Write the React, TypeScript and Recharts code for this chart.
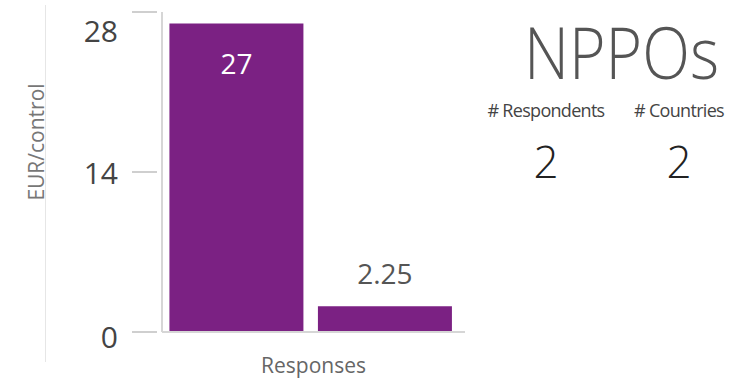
import { BarChart, Bar, XAxis, YAxis, LabelList } from "recharts";

// chart data
const categories = ["Response A", "Response B"];
const values = [27, 2.25];
const yTicks = [0, 14, 28];

// side panel figures
const panelTitle = "NPPOs";
const statLabels = ["# Respondents", "# Countries"];
const statValues = [2, 2];

const data = categories.map((c, i) => ({ category: c, value: values[i] }));

const FONT = "'Open Sans', 'Noto Sans', sans-serif";
const PURPLE = "#7b2183";

const YTick = (props: any) => {
    const { x, y, payload, index } = props;
    // top label sits lower, bottom one a touch lower too
    const shift = index === yTicks.length - 1 ? 18 : index === 0 ? 4 : 0;
    return (
        <g>
            <line x1={x - 30} x2={x - 5} y1={y} y2={y} stroke="#cfcfcf" strokeWidth={2} />
            <text
                x={x - 44}
                y={y + shift}
                textAnchor="end"
                dominantBaseline="central"
                fill="#444"
                fontSize={30}
                fontFamily={FONT}
            >
                {payload.value}
            </text>
        </g>
    );
};

const BarValue = (props: any) => {
    const { x, y, width, value } = props;
    const inside = value > 5;
    return (
        <text
            x={x + width / 2}
            y={inside ? y + 40 : y - 33}
            textAnchor="middle"
            dominantBaseline="central"
            fill={inside ? "#fff" : "#555"}
            fontSize={28}
            fontFamily={FONT}
        >
            {value}
        </text>
    );
};

export default function App() {
    return (
        <div style={{ position: "absolute", left: 0, top: 0, width: 731, height: 385, background: "#fff", fontFamily: FONT, overflow: "hidden" }}>
            <div style={{ position: "absolute", left: 45, top: 5, width: 1, height: 357, background: "#e6e6e6" }} />
            <BarChart
                width={480}
                height={385}
                data={data}
                margin={{ top: 12, right: 15, bottom: 0, left: 20 }}
                barCategoryGap="5%"
                barGap={0}
            >
                <XAxis
                    dataKey="category"
                    tick={false}
                    tickLine={false}
                    height={53}
                    padding={{ left: 0, right: 6 }}
                    axisLine={{ stroke: "#d6d6d6", strokeWidth: 2 }}
                    label={{ value: "Responses", position: "insideBottom", offset: 12, fill: "#666", fontSize: 21, fontFamily: FONT }}
                />
                <YAxis
                    domain={[0, 28]}
                    ticks={yTicks}
                    width={142}
                    tickSize={0}
                    tickMargin={0}
                    tickLine={false}
                    tick={<YTick />}
                    axisLine={{ stroke: "#d6d6d6", strokeWidth: 2 }}
                    label={{
                        content: () => (
                            <text
                                x={36}
                                y={142}
                                transform="rotate(-90, 36, 142)"
                                textAnchor="middle"
                                dominantBaseline="central"
                                fill="#777"
                                fontSize={21}
                                fontFamily={FONT}
                            >
                                EUR/control
                            </text>
                        ),
                    }}
                />
                <Bar dataKey="value" fill={PURPLE} isAnimationActive={false}>
                    <LabelList dataKey="value" content={<BarValue />} />
                </Bar>
            </BarChart>

            <div
                style={{
                    position: "absolute",
                    left: 524,
                    top: 10,
                    fontSize: 71,
                    color: "#555",
                    lineHeight: "84px",
                    fontWeight: 300,
                    transform: "scaleX(0.88)",
                    transformOrigin: "left top",
                    whiteSpace: "nowrap",
                }}
            >
                {panelTitle}
            </div>
            {statLabels.map((label, i) => (
                <div
                    key={label}
                    style={{
                        position: "absolute",
                        left: i === 0 ? 476 : 624,
                        top: 98,
                        width: i === 0 ? 140 : 110,
                        textAlign: "center",
                        fontSize: 18,
                        letterSpacing: -0.7,
                        color: "#444",
                        whiteSpace: "nowrap",
                    }}
                >
                    <div style={{ lineHeight: "24px" }}>{label}</div>
                    <div style={{ fontSize: 44, lineHeight: "78px", color: "#222", fontWeight: 300, letterSpacing: 0 }}>{statValues[i]}</div>
                </div>
            ))}
        </div>
    );
}
